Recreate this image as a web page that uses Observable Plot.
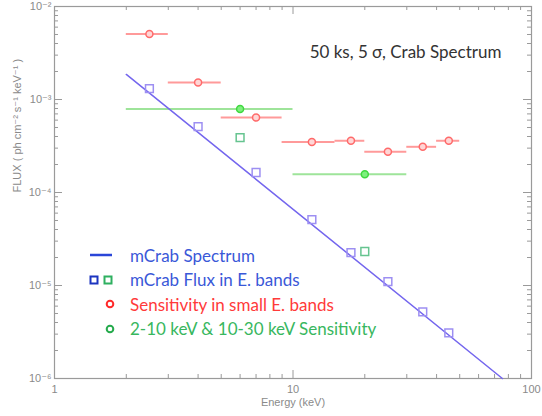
<!DOCTYPE html>
<html>
<head>
<meta charset="utf-8">
<script src="https://cdn.jsdelivr.net/npm/d3@7"></script>
<script src="https://cdn.jsdelivr.net/npm/@observablehq/plot@0.6"></script>
<style>
  html, body { margin: 0; padding: 0; background: #fff; }
  #wrap { position: relative; width: 542px; height: 416px; }
  #legend { position: absolute; left: 86px; top: 243px; font-family: Lato, "Open Sans", sans-serif; font-size: 17px; }
  .row { display: flex; align-items: center; height: 24.5px; white-space: nowrap; }
  .row svg { flex: none; }
</style>
</head>
<body>
<div id="wrap">
  <div id="chart"></div>
  <div id="legend"></div>
</div>
<script>
// ---- Data ----
// Power-law mCrab spectrum (endpoints of the drawn line)
const lineEnergy = [2, 75.5];
const lineFlux = [1.86e-3, 1.0e-6];

// mCrab flux in energy bands (blue squares)
const bandEnergy = [2.5, 4, 7, 12, 17.5, 25, 35, 45];
const bandFlux = [1.31e-3, 5.1e-4, 1.64e-4, 5.1e-5, 2.26e-5, 1.10e-5, 5.2e-6, 3.1e-6];

// Sensitivity in small energy bands (red)
const smallLo = [2, 3, 5, 9, 15, 20, 30, 40];
const smallHi = [3, 5, 9, 15, 20, 30, 40, 50];
const smallEnergy = [2.5, 4, 7, 12, 17.5, 25, 35, 45];
const smallSens = [5.05e-3, 1.52e-3, 6.4e-4, 3.5e-4, 3.6e-4, 2.75e-4, 3.1e-4, 3.6e-4];

// Broad-band sensitivity 2-10 and 10-30 keV (green)
const broadLo = [2, 10];
const broadHi = [10, 30];
const broadEnergy = [6, 20];
const broadSens = [7.9e-4, 1.57e-4];
// mCrab flux in broad bands (green squares)
const broadFlux = [3.9e-4, 2.32e-5];

// Axis ticks
const xMajor = [1, 10, 100];
const yMajor = [1e-6, 1e-5, 1e-4, 1e-3, 1e-2];
const yLabels = ["10\u207B\u2076", "10\u207B\u2075", "10\u207B\u2074", "10\u207B\u00B3", "10\u207B\u00B2"];

const titleText = "50 ks, 5 \u03C3, Crab Spectrum";
const xLabel = "Energy (keV)";
const yLabel = "FLUX ( ph cm\u207B\u00B2 s\u207B\u00B9 keV\u207B\u00B9 )";

const legendItems = [
  {label: "mCrab Spectrum", kind: "line", colors: ["#2a46d8"], text: "#3a58d8"},
  {label: "mCrab Flux in E. bands", kind: "squares", colors: ["#1c35c0", "#2fb060"], text: "#3a58d8"},
  {label: "Sensitivity in small E. bands", kind: "circle", colors: ["#ff2a2a"], text: "#ff3a3a"},
  {label: "2-10 keV & 10-30 keV Sensitivity", kind: "circle", colors: ["#25aa4c"], text: "#38b75e"}
];

// ---- Build tables ----
const line = lineEnergy.map((e, i) => ({e, f: lineFlux[i]}));
const bands = bandEnergy.map((e, i) => ({e, f: bandFlux[i]}));
const small = smallEnergy.map((e, i) => ({e, lo: smallLo[i], hi: smallHi[i], f: smallSens[i]}));
const broad = broadEnergy.map((e, i) => ({e, lo: broadLo[i], hi: broadHi[i], f: broadSens[i], sq: broadFlux[i]}));

const W = 542, H = 416, mL = 54, mR = 11, mT = 6, mB = 38;
const pw = W - mL - mR, ph = H - mT - mB;
const xMinor = d3.scaleLog().domain([1, 100]).ticks().filter(v => !xMajor.includes(v));
const yMinor = d3.scaleLog().domain([1e-6, 1e-2]).ticks().filter(v => !yMajor.some(m => Math.abs(m - v) / v < 1e-6));

const axisCol = "#9a9a9a";
const labelCol = "#8a8a8a";
const tickFont = "Liberation Sans, DejaVu Sans, sans-serif";

const chart = Plot.plot({
  width: W, height: H,
  marginLeft: mL, marginRight: mR, marginTop: mT, marginBottom: mB,
  style: {background: "#fff", fontFamily: tickFont, overflow: "visible"},
  x: {type: "log", domain: [1, 100], axis: null},
  y: {type: "log", domain: [1e-6, 1e-2], axis: null},
  marks: [
    // ticks (inward, all four sides)
    Plot.tickX(xMajor, {x: d => d, insetTop: ph - 8, stroke: axisCol}),
    Plot.tickX(xMinor, {x: d => d, insetTop: ph - 4, stroke: axisCol}),
    Plot.tickX(xMajor, {x: d => d, insetBottom: ph - 8, stroke: axisCol}),
    Plot.tickX(xMinor, {x: d => d, insetBottom: ph - 4, stroke: axisCol}),
    Plot.tickY(yMajor, {y: d => d, insetRight: pw - 8, stroke: axisCol}),
    Plot.tickY(yMinor, {y: d => d, insetRight: pw - 4, stroke: axisCol}),
    Plot.tickY(yMajor, {y: d => d, insetLeft: pw - 8, stroke: axisCol}),
    Plot.tickY(yMinor, {y: d => d, insetLeft: pw - 4, stroke: axisCol}),
    Plot.frame({stroke: axisCol, strokeWidth: 1.2}),
    // tick labels
    Plot.axisX({ticks: xMajor, tickFormat: d => String(d), tickSize: 0, tickPadding: 7, fontSize: 11, fill: labelCol, label: null}),
    Plot.axisY({ticks: yMajor, tickFormat: (d, i) => yLabels[yMajor.indexOf(d)], tickSize: 0, tickPadding: 3, fontSize: 11, fill: labelCol, label: null}),
    Plot.text([xLabel], {frameAnchor: "bottom", dy: 27, fontSize: 11, fill: labelCol, letterSpacing: "0.3px"}),
    Plot.text([yLabel], {frameAnchor: "left", dx: -37, rotate: -90, fontSize: 11, fill: labelCol, letterSpacing: "0.9px"}),
    // title
    Plot.text([titleText], {frameAnchor: "top-left", textAnchor: "middle", lineAnchor: "middle", dx: 351, dy: 46, fontSize: 17, fill: "#333", fontFamily: "Lato, sans-serif"}),
    // error bars
    Plot.ruleY(broad, {y: "f", x1: "lo", x2: "hi", stroke: "#9ee49a", strokeWidth: 2}),
    Plot.ruleY(small, {y: "f", x1: "lo", x2: "hi", stroke: "#ff9a9a", strokeWidth: 2}),
    // power law line
    Plot.line(line, {x: "e", y: "f", stroke: "#7466ee", strokeWidth: 1.5}),
    // squares
    Plot.dot(bands, {x: "e", y: "f", symbol: "square", r: 4.4, stroke: "#9d8ff2", strokeWidth: 1.5, fill: "none"}),
    Plot.dot(broad, {x: "e", y: "sq", symbol: "square", r: 4.4, stroke: "#66c490", strokeWidth: 1.5, fill: "none"}),
    // sensitivity markers
    Plot.dot(small, {x: "e", y: "f", r: 3.5, stroke: "#ff6a6a", strokeWidth: 1.5, fill: "#ffd6d6"}),
    Plot.dot(broad, {x: "e", y: "f", r: 3.5, stroke: "#3fd83f", strokeWidth: 1.5, fill: "#7ef07e"})
  ]
});
document.getElementById("chart").appendChild(chart);

// ---- Legend ----
const legend = d3.select("#legend");
legendItems.forEach(item => {
  const row = legend.append("div").attr("class", "row");
  const svg = row.append("svg").attr("width", 44).attr("height", 24);
  if (item.kind === "line") {
    svg.append("line").attr("x1", 4).attr("x2", 26).attr("y1", 12).attr("y2", 12)
      .attr("stroke", item.colors[0]).attr("stroke-width", 2.5);
  } else if (item.kind === "squares") {
    [8, 22].forEach((cx, j) => svg.append("rect").attr("x", cx - 3.5).attr("y", 8.5).attr("width", 7).attr("height", 7)
      .attr("fill", "none").attr("stroke", item.colors[j]).attr("stroke-width", 2));
  } else {
    svg.append("circle").attr("cx", 24).attr("cy", 12).attr("r", 3.3)
      .attr("fill", "none").attr("stroke", item.colors[0]).attr("stroke-width", 2);
  }
  row.append("span").style("color", item.text).text(item.label);
});
</script>
</body>
</html>
